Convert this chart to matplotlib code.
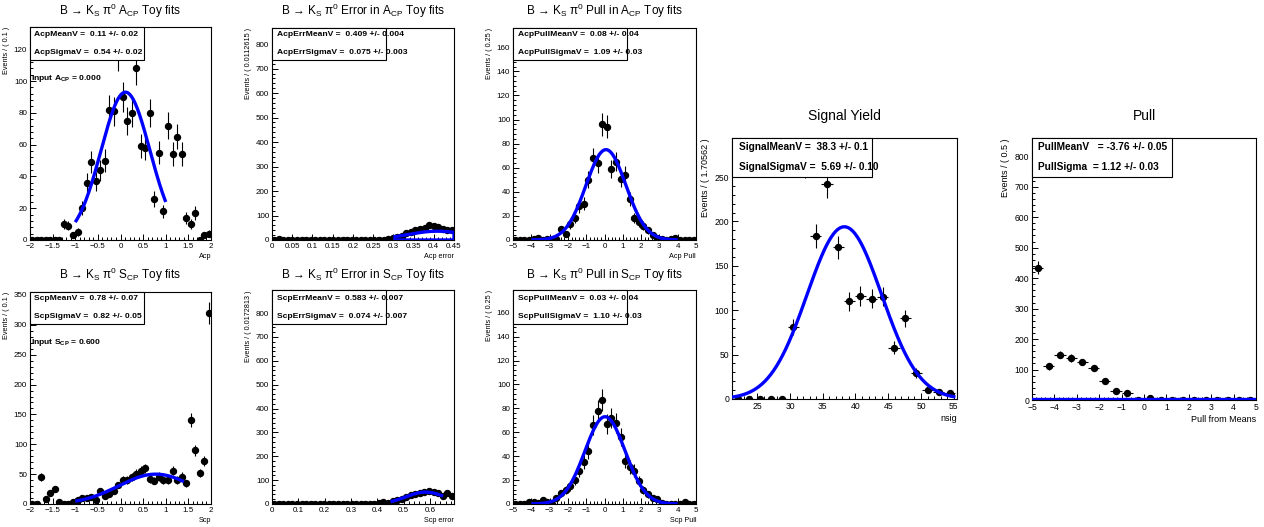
import numpy as np
import matplotlib
matplotlib.use('Agg')
import matplotlib.pyplot as plt
from matplotlib.ticker import MultipleLocator, FuncFormatter
from matplotlib.patches import Rectangle

plt.rcParams['font.family'] = ['Liberation Sans', 'DejaVu Sans']
plt.rcParams['mathtext.default'] = 'regular'

# ---- data ----
acp_counts = [0, 0, 0, 0, 0, 0, 0, 10, 9, 3, 5, 20, 36, 49, 37, 44, 50, 82, 81, 117,
              90, 75, 80, 108, 59, 58, 80, 26, 55, 18, 72, 54, 65, 54, 14, 10, 17, 0, 3, 4]
acperr_counts = [0, 4, 0, 0, 0, 0, 0, 0, 0, 0, 0, 0, 0, 0, 0, 0, 0, 0, 0, 0,
                 0, 0, 0, 0, 2, 3, 8, 12, 18, 28, 32, 40, 44, 48, 60, 57, 52, 46, 40, 42]
acppull_counts = [0, 0, 0, 0, 1, 2, 0, 1, 0, 1, 9, 5, 13, 18, 28, 30, 50, 68, 64, 96,
                  94, 59, 65, 51, 54, 34, 18, 15, 12, 8, 4, 2, 1, 0, 1, 2, 0, 0, 0, 0]
scp_counts = [0, 0, 45, 8, 19, 25, 3, 0, 0, 3, 6, 10, 10, 12, 7, 21, 13, 17, 21, 32,
              41, 40, 45, 51, 56, 60, 42, 39, 46, 40, 40, 56, 40, 46, 35, 141, 90, 52, 72, 320]
scperr_counts = [0, 0, 0, 0, 0, 0, 0, 0, 0, 0, 0, 0, 0, 0, 0, 0, 0, 0, 0, 0,
                 0, 1, 2, 5, 8, 5, 12, 15, 20, 30, 38, 40, 45, 50, 55, 52, 48, 35, 45, 35]
scppull_counts = [0, 0, 0, 2, 2, 1, 3, 2, 0, 5, 9, 12, 15, 20, 28, 35, 44, 66, 78, 87,
                  67, 72, 68, 56, 36, 31, 28, 19, 12, 8, 5, 4, 1, 0, 0, 0, 0, 2, 0, 0]
nsig_counts = [0, 0, 0, 0, 0, 81, 265, 184, 242, 171, 110, 116, 113, 115, 58, 91, 29, 10, 8, 7]
pull_counts = [434, 110, 149, 138, 125, 104, 62, 30, 22, 0, 6, 0, 0, 0, 0, 0, 0, 0, 0, 0]

# histogram binning: (low edge, bin width, number of bins)
acp_bins = (-2.0, 0.1, 40)
acperr_bins = (0.0, 0.0112615, 40)
acppull_bins = (-5.0, 0.25, 40)
scp_bins = (-2.0, 0.1, 40)
scperr_bins = (0.0, 0.0172813, 40)
scppull_bins = (-5.0, 0.25, 40)
nsig_bins = (21.15, 1.70562, 20)
pull_bins = (-5.0, 0.5, 20)

# gaussian fit curves: (peak, mean, sigma, draw from, draw to)
acp_fit = (93, 0.11, 0.54, -1.0, 1.0)
acperr_fit = (36, 0.409, 0.075, 0.30, 0.45)
acppull_fit = (75, 0.08, 1.09, -4.0, 4.0)
scp_fit = (50, 0.78, 0.82, -1.0, 1.4)
scperr_fit = (50, 0.583, 0.074, 0.45, 0.65)
scppull_fit = (73, 0.03, 1.10, -4.0, 4.0)
nsig_fit = (194, 38.3, 5.69, 21.15, 55.26)
pull_fit_level = 2

W, H = 1264, 527
fig = plt.figure(figsize=(W / 100, H / 100), dpi=100)


def px_rect(l, t, r, b):
    return [l / W, 1 - b / H, (r - l) / W, (b - t) / H]


def gfmt(v, pos):
    s = '%g' % round(v, 6)
    return s.replace('-', '\u2212')


def panel(box, bins, counts, fit, xlim, ylim, xt, yt, xlabel, ylabel, title,
          title_y, stats, stat_box, stat_rows, stat_x, fs=5.8, lfs=5.2, tfs=8.5,
          sfs=6.1, xerr=False, closed_fit=False, flat_fit=None, extra=None):
    l, t, r, b = box
    ax = fig.add_axes(px_rect(l, t, r, b))
    lo, w, n = bins
    centers = lo + w * (np.arange(n) + 0.5)
    counts = np.array(counts, dtype=float)
    err_lo = np.sqrt(counts)
    err_hi = np.where(counts > 0, np.sqrt(counts), 1.15)
    ax.errorbar(centers, counts, yerr=[err_lo, err_hi],
                xerr=(w / 2 if xerr else None), fmt='o', color='black',
                ms=4.3, elinewidth=0.8, capsize=0, zorder=3, clip_on=True)
    if fit is not None:
        peak, mu, sig, x0, x1 = fit
        xs = np.linspace(x0, x1, 300)
        ys = peak * np.exp(-0.5 * ((xs - mu) / sig) ** 2)
        if closed_fit:
            xs = np.concatenate([xs, [x1, x0]])
            ys = np.concatenate([ys, [0, 0]])
        ax.plot(xs, ys, color='#0000ff', lw=2.4, zorder=4, solid_capstyle='butt')
    if flat_fit is not None:
        ax.plot(xlim, [flat_fit, flat_fit], color='#0000ff', lw=2.4, zorder=4)
    ax.set_xlim(*xlim)
    ax.set_ylim(*ylim)
    ax.xaxis.set_major_locator(MultipleLocator(xt[0]))
    ax.xaxis.set_minor_locator(MultipleLocator(xt[1]))
    ax.yaxis.set_major_locator(MultipleLocator(yt[0]))
    ax.yaxis.set_minor_locator(MultipleLocator(yt[1]))
    ax.xaxis.set_major_formatter(FuncFormatter(gfmt))
    ax.yaxis.set_major_formatter(FuncFormatter(gfmt))
    ax.tick_params(which='both', direction='in', top=False, right=False,
                   labelsize=fs, pad=2, width=0.7)
    ax.tick_params(which='major', length=4.5)
    ax.tick_params(which='minor', length=2.3)
    for sp in ax.spines.values():
        sp.set_linewidth(0.8)
    ax.set_xlabel(xlabel, loc='right', fontsize=lfs, labelpad=2)
    ax.set_ylabel(ylabel, loc='top', fontsize=lfs, labelpad=3)
    fig.text((l + r) / 2 / W, 1 - title_y / H, title, ha='center', va='center',
             fontsize=tfs)
    bl, bt, br, bb = stat_box
    fig.add_artist(Rectangle((bl / W, 1 - bb / H), (br - bl) / W, (bb - bt) / H,
                             transform=fig.transFigure, facecolor='white',
                             edgecolor='black', lw=0.8, zorder=5))
    for line, yy in zip(stats, stat_rows):
        fig.text(stat_x / W, 1 - yy / H, line, ha='left', va='center',
                 fontsize=sfs, fontweight='bold', zorder=6)
    if extra is not None:
        txt, ex, ey = extra
        fig.text(ex / W, 1 - ey / H, txt, ha='left', va='center',
                 fontsize=sfs, fontweight='bold', zorder=6)
    return ax


arrow = 'B \u2192 K$_{S}$ \u03c0$^{0}$ '

panel((30, 27, 211, 240), acp_bins, acp_counts, acp_fit, (-2, 2), (0, 134),
      (0.5, 0.1), (20, 4), 'Acp', 'Events / ( 0.1 )', arrow + 'A$_{CP}$ Toy fits', 11,
      ['AcpMeanV =  0.11 +/- 0.02', 'AcpSigmaV =  0.54 +/- 0.02'],
      (30, 27, 144, 60), (35, 52), 34,
      extra=('Input A$_{CP}$ = 0.000', 31, 79))

panel((272, 28, 454, 240), acperr_bins, acperr_counts, acperr_fit, (0, 0.45), (0, 866),
      (0.05, 0.01), (100, 20), 'Acp error', 'Events / ( 0.0112615 )',
      arrow + 'Error in A$_{CP}$ Toy fits', 11,
      ['AcpErrMeanV =  0.409 +/- 0.004', 'AcpErrSigmaV =  0.075 +/- 0.003'],
      (272, 28, 386, 60), (35, 52), 277, closed_fit=True)

panel((513, 28, 696, 240), acppull_bins, acppull_counts, acppull_fit, (-5, 5), (0, 176),
      (1, 0.2), (20, 4), 'Acp Pull', 'Events / ( 0.25 )',
      arrow + 'Pull in A$_{CP}$ Toy fits', 11,
      ['AcpPullMeanV =  0.08 +/- 0.04', 'AcpPullSigmaV =  1.09 +/- 0.03'],
      (513, 28, 627, 60), (35, 52), 518)

panel((30, 292, 211, 504), scp_bins, scp_counts, scp_fit, (-2, 2), (0, 355),
      (0.5, 0.1), (50, 10), 'Scp', 'Events / ( 0.1 )', arrow + 'S$_{CP}$ Toy fits', 275,
      ['ScpMeanV =  0.78 +/- 0.07', 'ScpSigmaV =  0.82 +/- 0.05'],
      (30, 292, 144, 324), (299, 316), 34,
      extra=('Input S$_{CP}$ = 0.600', 31, 342))

panel((272, 290, 454, 504), scperr_bins, scperr_counts, scperr_fit, (0, 0.6913), (0, 897),
      (0.1, 0.02), (100, 20), 'Scp error', 'Events / ( 0.0172813 )',
      arrow + 'Error in S$_{CP}$ Toy fits', 275,
      ['ScpErrMeanV =  0.583 +/- 0.007', 'ScpErrSigmaV =  0.074 +/- 0.007'],
      (272, 290, 386, 324), (299, 317), 277)

panel((513, 290, 696, 504), scppull_bins, scppull_counts, scppull_fit, (-5, 5), (0, 179),
      (1, 0.2), (20, 4), 'Scp Pull', 'Events / ( 0.25 )',
      arrow + 'Pull in S$_{CP}$ Toy fits', 275,
      ['ScpPullMeanV =  0.03 +/- 0.04', 'ScpPullSigmaV =  1.10 +/- 0.03'],
      (513, 290, 627, 324), (299, 317), 518)

panel((732, 138, 957, 399), nsig_bins, nsig_counts, nsig_fit, (21.15, 55.5), (0, 294),
      (5, 1), (50, 10), 'nsig', 'Events / ( 1.70562 )', 'Signal Yield', 116,
      ['SignalMeanV =  38.3 +/- 0.1', 'SignalSigmaV =  5.69 +/- 0.10'],
      (732, 138, 872, 177), (147, 167), 739, fs=6.2, lfs=6.5, tfs=10, sfs=7.3,
      xerr=True)

panel((1032, 138, 1256, 400), pull_bins, pull_counts, None, (-5, 5), (0, 860),
      (1, 0.2), (100, 20), 'Pull from Means', 'Events / ( 0.5 )', 'Pull', 116,
      ['PullMeanV   = -3.76 +/- 0.05', 'PullSigma  = 1.12 +/- 0.03'],
      (1032, 138, 1172, 177), (147, 167), 1038, fs=6.2, lfs=6.5, tfs=10, sfs=7.3,
      xerr=True, flat_fit=pull_fit_level)

fig.savefig('out.png', dpi=100)
